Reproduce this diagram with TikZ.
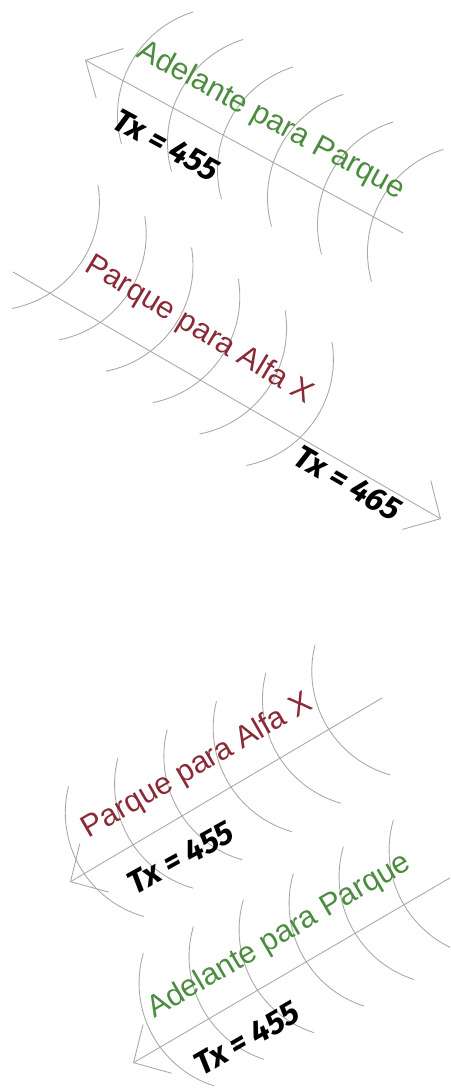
\documentclass[tikz,border=0pt]{standalone}
\usepackage{fontspec}
\setmainfont{Liberation Sans}
\newfontfamily\txfont{Fira Sans}
\usetikzlibrary{arrows.meta}
\definecolor{verde}{HTML}{4C8C40}
\definecolor{vinho}{HTML}{8A2A36}
\definecolor{cinza}{HTML}{A8A8A8}
\begin{document}
\begin{tikzpicture}[line join=round, line cap=round, every node/.style={inner sep=0pt}, onda/.style={cinza, line width=0.5pt, radius=2.16}, seta/.style={cinza, line width=0.5pt, -{Straight Barb[length=5.5mm, width=11.3mm]}}, rotulo/.style={font=\fontsize{17.5}{21}\selectfont}, tx/.style={font=\txfont\bfseries\itshape\fontsize{18.5}{22}\selectfont}]
		
		\useasboundingbox (0,0) rectangle (9,21.8);
		
		\clip (0,0) rectangle (9,21.8);
		
		% 1) Adelante para Parque, para cima
		\coordinate (pontaA) at (1.70,20.60);
		
		\coordinate (fimA) at (8.06,17.14);
		
		\draw[seta] (fimA) -- (pontaA);
		
		\foreach \k in {0,...,5}
			\draw[onda] (4.51+1.00*\k, 19.50-0.55*\k) ++(107.5:2.16) arc[start angle=107.5, end angle=195.5];
		
		\node[rotulo, text=verde, rotate=-28.5] (txtA) at (5.41,19.38) {Adelante para Parque};
		
		\node[tx, rotate=-28.5] (txA) at (3.33,18.90) {Tx = 455};
		
		% 2) Parque para Alfa X, para baixo
		\coordinate (inicioB) at (0.26,16.36);
		
		\coordinate (pontaB) at (8.82,11.42);
		
		\draw[seta] (inicioB) -- (pontaB);
		
		\foreach \k in {0,...,5}
			\draw[onda] (-0.172+0.936*\k, 17.75-0.628*\k) ++(9.3:2.16) arc[start angle=9.3, end angle=-78.7];
		
		\node[rotulo, text=vinho, rotate=-31] (txtB) at (3.98,15.19) {Parque para Alfa X};
		
		\node[tx, rotate=-30] (txB) at (6.96,12.13) {Tx = 465};
		
		% 3) Parque para Alfa X, resposta
		\coordinate (pontaC) at (1.40,4.16);
		
		\coordinate (fimC) at (7.64,7.84);
		
		\draw[seta] (fimC) -- (pontaC);
		
		\foreach \k in {0,...,5}
			\draw[onda] (3.466+0.986*\k, 5.548+0.566*\k) ++(166:2.16) arc[start angle=166, end angle=254];
		
		\node[rotulo, text=vinho, rotate=30] (txtC) at (3.95,6.47) {Parque para Alfa X};
		
		\node[tx, rotate=29] (txC) at (3.62,4.65) {Tx = 455};
		
		% 4) Adelante para Parque, resposta
		\coordinate (pontaD) at (2.66,0.54);
		
		\coordinate (fimD) at (9.10,4.30);
		
		\draw[seta] (fimD) -- (pontaD);
		
		\foreach \k in {0,...,5}
			\draw[onda] (4.942+1.00*\k, 2.138+0.532*\k) ++(164:2.16) arc[start angle=164, end angle=252];
		
		\node[rotulo, text=verde, rotate=30.3] (txtD) at (5.59,3.07) {Adelante para Parque};
		
		\node[tx, rotate=30] (txD) at (4.94,1.03) {Tx = 455};
		
	\end{tikzpicture}
\end{document}
